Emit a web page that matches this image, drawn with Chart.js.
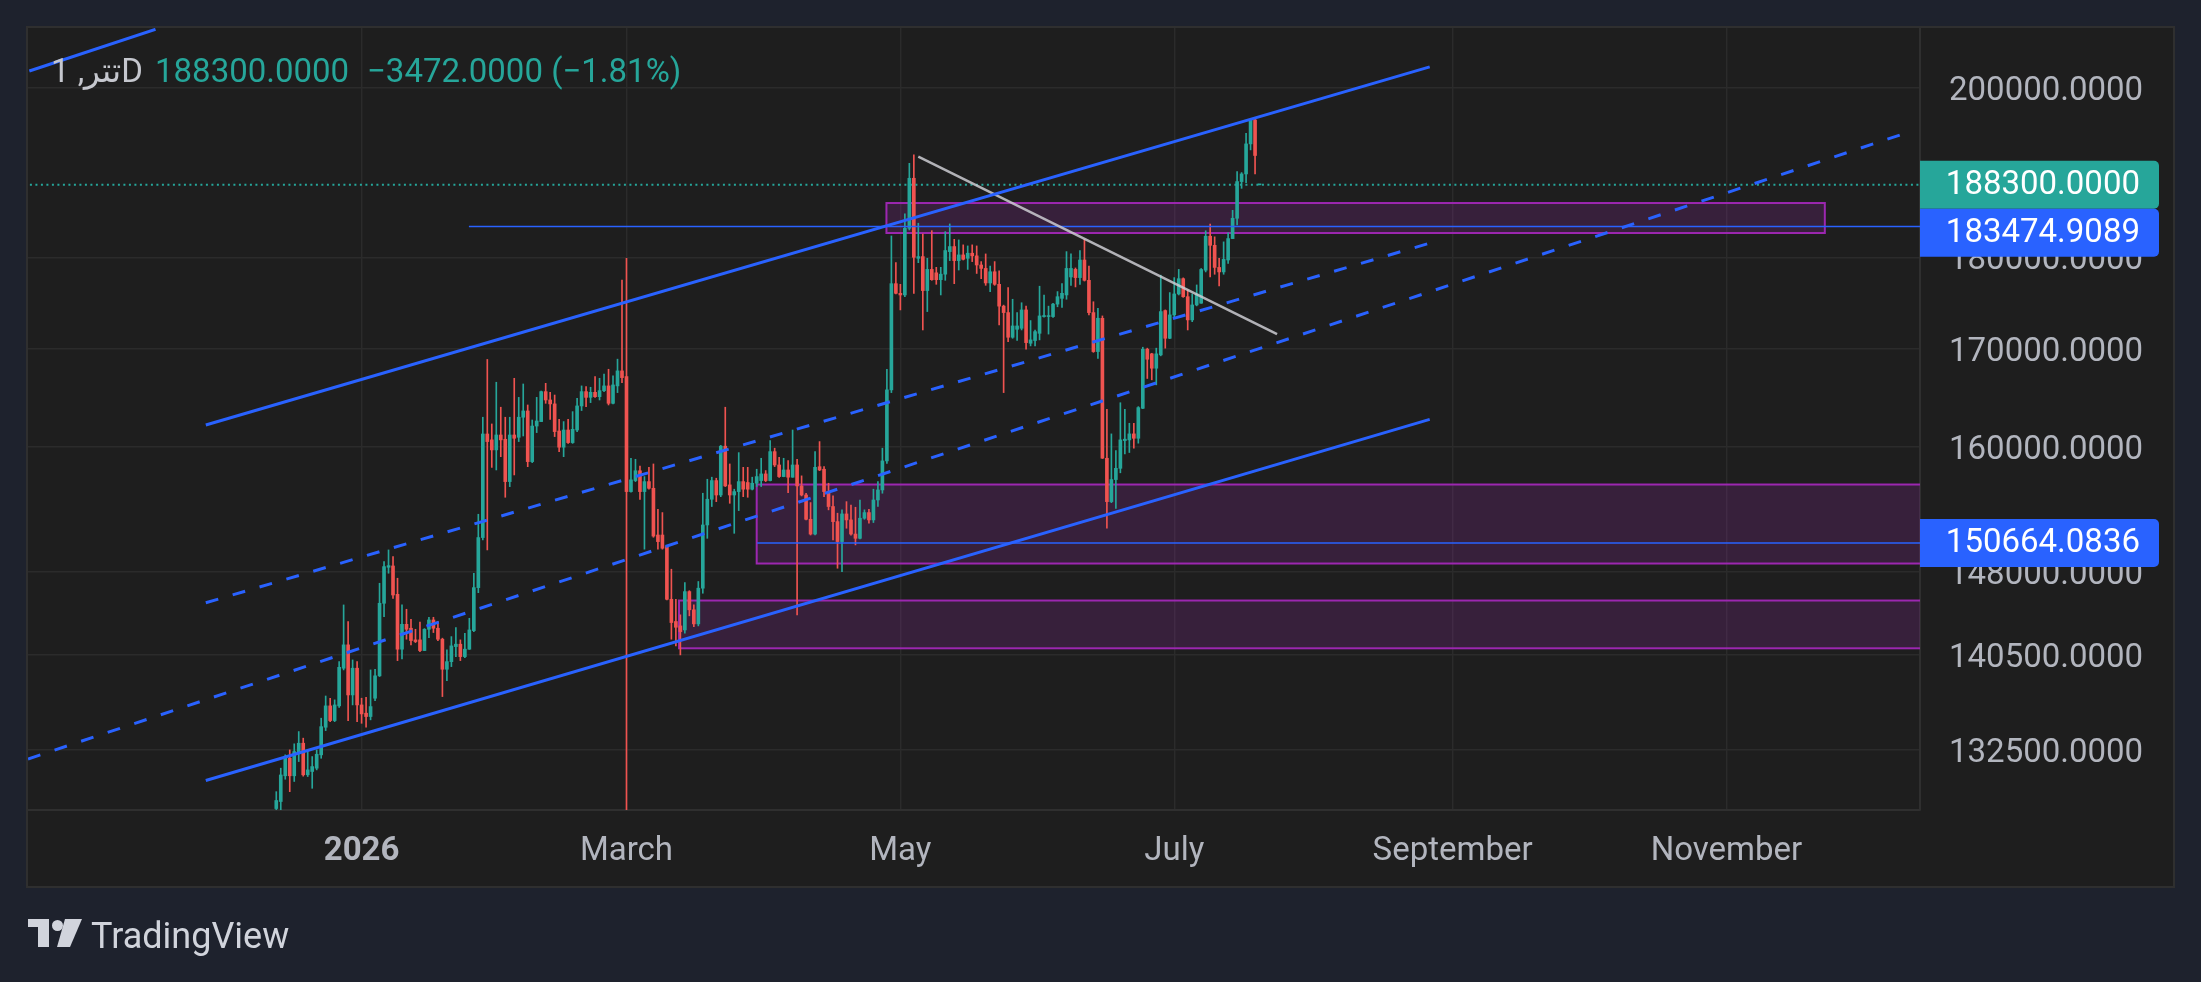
<!DOCTYPE html>
<html lang="en">
<head>
    <meta charset="UTF-8">
    <title>تتر, 1D</title>
    <script src="https://cdn.jsdelivr.net/npm/chart.js"></script>
    <style>
        html, body { margin: 0; padding: 0; background: #1e222d; overflow: hidden; }
        #wrap { position: relative; width: 2201px; height: 982px; }
        #chart { position: absolute; left: 0; top: 0; }
        .hdr { position: absolute; top: 51px; font: 33px Roboto, sans-serif; white-space: nowrap; }
        .sym { color: #c5c7ce; }
        .val { color: #26a69a; }
        .logo { position: absolute; left: 28px; top: 915px; height: 40px; }
        .logo svg { position: absolute; left: 0; top: 4px; }
        .logo span { position: absolute; left: 63px; top: 0; font: 36px Roboto, sans-serif; color: #d1d4dc; white-space: nowrap; }
    </style>
</head>
<body>
<div id="wrap">
    <canvas id="chart" width="2201" height="982"></canvas>

    <!-- Legend line -->
    <div class="hdr sym" style="left:51px">تتر, 1D</div>
    <div class="hdr val" style="left:155px">188300.0000</div>
    <div class="hdr val" style="left:367px">−3472.0000 (−1.81%)</div>

    <!-- Watermark -->
    <div class="logo">
        <svg width="54" height="28" viewBox="0 0 54 28">
            <rect x="0" y="0" width="21" height="8" fill="#d1d4dc"/>
            <rect x="10" y="0" width="11" height="28" fill="#d1d4dc"/>
            <circle cx="29.5" cy="6.5" r="5.5" fill="#d1d4dc"/>
            <polygon points="37,0 54,0 42,28 29,28" fill="#d1d4dc"/>
        </svg>
        <span>TradingView</span>
    </div>
</div>

<script>
    // Daily candles, first one on 13 Dec 2025; x values are days counted from 1 Jan 2026
    const firstDay = -19;

    const opens = [
        127700,128260,130330,131760,130330,132230,133000,130410,130680,130950,
        132040,134330,136130,134890,136130,139360,141400,137060,139360,136210,
        135510,135230,136780,138700,145110,148400,148520,145920,141020,143220,
        142870,141840,141840,140900,142780,143610,142870,141900,139270,139930,
        141250,141460,140370,141020,142660,146530,151170,161240,160650,159650,
        161140,160710,156530,161140,160910,162930,163570,158490,162040,162490,
        165550,164690,164290,161540,159920,161640,160380,161640,164080,165550,
        164960,165480,165030,165650,166140,164350,166140,167700,167110,155560,
        156630,157590,155560,156530,155880,151410,151410,150330,145470,143470,
        143080,142720,146170,144520,143260,146480,152360,154820,156630,155230,
        160020,156210,155230,155560,156530,156440,155790,156370,156630,157280,
        156630,159480,158160,157020,157670,156960,158160,156110,155230,152900,
        151500,157990,157740,155560,154120,152680,150790,153410,152840,151500,
        151100,153000,153540,152840,154750,155720,158560,165730,177060,176000,
        175820,183270,189070,179880,180070,176300,178640,178260,177500,178110,
        180630,181200,179620,180260,179880,180450,180150,179130,178750,177140,
        178380,176990,174600,173900,171250,172100,172210,174190,170610,170900,
        171670,173470,173470,173470,174820,175450,175820,177800,178640,177730,
        179690,177430,173900,169730,173290,158820,154590,156730,157830,160580,
        160650,161250,160810,163840,169980,169490,167980,169380,174120,171140,
        173650,175930,177610,175630,173110,174730,174920,178550,182370,181340,
        178860,178360,179690,182100,184420,188680,189580,193160,196060,188300
    ];
    const highs = [
        129050,130950,132040,132450,132950,133970,133420,132310,131900,132450,
        135090,136970,136780,136640,139930,144960,143460,140080,139930,136780,
        136860,139210,139270,146930,148920,150010,149390,147390,144960,144570,
        143670,142780,143430,142840,143850,143850,143460,141990,140960,142130,
        142930,141840,142430,143760,147850,153380,162930,168900,162250,166520,
        163950,162930,162930,166930,164960,166340,164180,162650,164960,165610,
        166410,165480,165200,162720,162490,162720,163500,164860,166140,166070,
        166000,167110,166930,167380,167870,167180,168930,177470,179880,158820,
        158720,158060,157020,157920,158260,153860,153540,150360,148220,145470,
        144070,147000,146250,144970,147090,155400,156760,156960,156860,160100,
        163950,158260,155790,159380,157930,157930,156960,157740,158820,157610,
        160580,159820,158920,158820,158590,161640,158720,157090,155400,154500,
        159480,160480,158000,156370,155140,153480,153800,154590,154270,154050,
        154750,153800,153860,155790,156530,159820,167870,182400,179390,176990,
        184920,190840,191840,183850,182630,179880,183000,178870,178870,182890,
        183770,182020,181950,181390,181270,181390,181270,179510,180370,179020,
        179510,178490,174710,176630,175350,173900,174970,174600,173040,172030,
        176780,175820,174600,174900,176190,177060,180630,180370,178800,180750,
        182020,179020,175080,174370,173540,163740,161250,159590,164410,163740,
        162320,162320,164010,170190,170090,169550,170090,178000,174190,176080,
        177730,178640,177700,176370,175930,176920,178740,182990,183760,182300,
        179870,181730,182760,185330,189860,189740,194440,196140,196140,188300
    ];
    const lows = [
        127300,127500,130050,129050,129870,131490,130300,130270,129320,130810,
        131760,134050,134800,134800,136000,139210,134890,136210,134800,134660,
        134330,134950,136580,138640,143910,147850,145560,140020,140160,141900,
        141400,141600,140810,140900,142040,142490,141780,136920,138290,139500,
        140370,140020,140280,141000,142570,146070,150950,150010,157920,157670,
        158980,155010,156040,157180,160480,161040,157990,158390,161380,162490,
        164350,162720,160980,159480,158980,160300,160300,161480,163610,164010,
        164420,164950,164690,165550,164180,164290,165450,166480,125000,155500,
        156530,154810,150080,155800,151200,150080,150080,145410,141900,141310,
        140520,142430,143980,143020,143080,146020,151100,154120,154590,155070,
        156050,154430,151570,153730,155070,155010,155720,156050,156050,156530,
        156600,158000,156950,157000,155460,156950,144070,155140,152840,151410,
        151410,157600,155070,153800,150950,148310,148000,152050,151400,150480,
        151050,152900,152520,152590,154120,155400,158320,165450,175930,174190,
        175630,183080,176000,179390,172030,174010,177430,176990,175820,177430,
        179620,177060,178570,179690,178640,179510,178190,177610,176880,176190,
        176880,172570,165450,170790,171140,170900,172030,169980,170330,170330,
        170970,173400,171590,173390,174530,174460,175350,176880,176700,176990,
        177350,173650,169650,169020,158800,152050,154490,153940,157390,159250,
        159390,159820,160320,163800,166910,166770,166250,169280,170090,171100,
        173390,175820,175560,172030,172920,174630,174910,178360,177800,178100,
        176810,178100,179310,182100,183650,187890,188560,192440,189580,188300
    ];
    const closes = [
        128340,130400,131900,130330,132310,133000,130410,130810,131080,132090,
        134380,136130,134890,136210,139440,141400,137060,139360,136210,135450,
        135230,136070,138700,145110,148460,148550,145860,141020,143220,142780,
        141780,141690,140900,142780,143610,142870,141900,139270,139930,141310,
        141460,140370,141020,142720,146530,151170,161240,160480,159650,161140,
        160650,156530,161140,160810,162930,163570,158490,162040,162550,165550,
        164690,164290,161480,159920,161640,160380,161710,164080,165550,164960,
        165480,165030,165650,166140,164350,166240,167700,167000,155560,156700,
        157590,155560,156530,155880,151310,150790,150170,145470,143380,142960,
        142570,146170,144520,143260,146480,152360,154820,156630,155230,160020,
        156110,155230,155560,156530,155790,155790,156370,157020,157280,156630,
        159480,158160,157020,157670,156960,158160,156110,155230,152900,151500,
        157930,157670,155560,154120,152680,150790,153410,152840,151500,151100,
        153000,153540,152840,154750,155720,158560,165730,177060,176000,175820,
        183270,189070,179990,180070,176300,178640,177500,177500,178110,180750,
        181200,179620,180260,179770,180450,180150,179130,178750,177140,178380,
        176990,174600,173900,171250,172460,172460,174190,170680,170970,171850,
        173540,173540,173540,174820,175630,176000,178750,178750,177730,179690,
        177430,173900,169730,173290,158820,154590,156730,157830,160650,160720,
        161250,160810,163910,169980,168920,167980,169490,174010,171140,173650,
        175930,177610,175630,173110,174730,175930,178630,182370,181340,178860,
        178360,179760,182100,184420,188680,189580,193160,196060,191770,188300
    ];

    // Axes
    const monthDays = [0, 59, 120, 181, 243, 304];
    const monthLabels = ['2026', 'March', 'May', 'July', 'September', 'November'];
    const priceTicks = [132500, 140500, 148000, 160000, 170000, 180000, 200000];
    const dayRange = [-74.3, 347.1];
    const priceRange = [127584, 207614];

    // Price line and horizontal levels
    const lastPrice = 188300;
    const levelPrices = [183474.9089, 150664.0836];
    const levelStarts = [23.9, 88.1];

    // Parallel channel (ends in days, prices at those ends)
    const channelDays = [-34.7, 237.9];
    const channelTop = [162144, 202645];
    const channelMid = [145154, 181582];
    const channelBottom = [129948, 162712];

    // Other drawn lines
    const rayDays = [-74.3, 344.1];
    const rayPrices = [131700, 194498];
    const cornerDays = [-74.0, -45.9];
    const cornerPrices = [202128, 207446];
    const trendDays = [124.0, 203.9];
    const trendPrices = [191624, 171596];

    // Zones
    const zoneStarts = [116.9, 88.0, 70.7];
    const zoneEnds = [325.9, 400, 400];
    const zoneHighs = [186178, 156246, 145358];
    const zoneLows = [182734, 148746, 141098];

    const up = '#26a69a';
    const down = '#ef5350';
    const blue = '#2962ff';

    const candleColors = closes.map((c, i) => c >= opens[i] ? up : down);
    const bodies = opens.map((o, i) => ({ x: firstDay + i, y: [o, closes[i]] }));
    const wicks = opens.map((o, i) => ({ x: firstDay + i, y: [lows[i], highs[i]] }));

    function segment(days, prices) {
        return days.map((d, i) => ({ x: d, y: prices[i] }));
    }

    function lineSet(data, color, width, dash) {
        return {
            type: 'line',
            data: data,
            borderColor: color,
            borderWidth: width,
            borderDash: dash || [],
            pointRadius: 0,
            fill: false,
            tension: 0
        };
    }

    // Background of the page and the chart panel
    const panelPlugin = {
        id: 'panel',
        beforeDraw(chart) {
            const { ctx, chartArea, scales } = chart;
            ctx.save();
            ctx.fillStyle = '#1e222d';
            ctx.fillRect(0, 0, chart.width, chart.height);
            const x0 = chartArea.left, y0 = chartArea.top;
            const x1 = scales.y.right, y1 = scales.x.bottom;
            ctx.fillStyle = '#1e1e1e';
            ctx.fillRect(x0, y0, x1 - x0, y1 - y0);
            ctx.strokeStyle = '#2f2f2f';
            ctx.lineWidth = 2;
            ctx.strokeRect(x0 - 1, y0 - 1, x1 - x0 + 2, y1 - y0 + 2);
            ctx.restore();
        }
    };

    // Rectangles, drawn under the candles
    const zonesPlugin = {
        id: 'zones',
        beforeDatasetsDraw(chart) {
            const { ctx, chartArea, scales: { x, y } } = chart;
            ctx.save();
            ctx.beginPath();
            ctx.rect(chartArea.left, chartArea.top, chartArea.right - chartArea.left, chartArea.bottom - chartArea.top);
            ctx.clip();
            zoneStarts.forEach((s, i) => {
                const left = x.getPixelForValue(s);
                const right = x.getPixelForValue(zoneEnds[i]);
                const top = y.getPixelForValue(zoneHighs[i]);
                const bottom = y.getPixelForValue(zoneLows[i]);
                ctx.fillStyle = 'rgba(156, 39, 176, 0.2)';
                ctx.fillRect(left, top, right - left, bottom - top);
                ctx.strokeStyle = '#9c27b0';
                ctx.lineWidth = 2;
                ctx.strokeRect(left, top, right - left, bottom - top);
            });
            ctx.restore();
        }
    };

    // Price tags on the right scale
    const tagsPlugin = {
        id: 'tags',
        afterDraw(chart) {
            const { ctx, chartArea, scales: { y } } = chart;
            const tags = [
                { v: lastPrice, c: up },
                { v: levelPrices[0], c: blue },
                { v: levelPrices[1], c: blue }
            ];
            const h = 48;
            let prevBottom = -Infinity;
            ctx.save();
            ctx.font = '33px Roboto';
            ctx.textAlign = 'right';
            ctx.textBaseline = 'middle';
            tags.forEach(t => {
                let top = y.getPixelForValue(t.v) - h / 2;
                if (top < prevBottom) top = prevBottom;
                prevBottom = top + h;
                ctx.fillStyle = t.c;
                ctx.beginPath();
                ctx.roundRect(chartArea.right, top, y.right - 14 - chartArea.right, h, [0, 5, 5, 0]);
                ctx.fill();
                ctx.fillStyle = '#ffffff';
                ctx.fillText(t.v.toFixed(4), y.right - 33, top + h / 2 + 1);
            });
            ctx.restore();
        }
    };

    Chart.defaults.font.family = 'Roboto';

    new Chart(document.getElementById('chart'), {
        type: 'bar',
        data: {
            datasets: [
                lineSet(segment(channelDays, channelTop), blue, 3),
                lineSet(segment(channelDays, channelBottom), blue, 3),
                lineSet(segment(channelDays, channelMid), blue, 3, [13, 15]),
                lineSet(segment(rayDays, rayPrices), blue, 3, [13, 15]),
                lineSet(segment(cornerDays, cornerPrices), blue, 3),
                lineSet(segment(trendDays, trendPrices), 'rgba(205, 205, 210, 0.85)', 2.5),
                lineSet(segment([levelStarts[0], 400], [levelPrices[0], levelPrices[0]]), blue, 1.6),
                lineSet(segment([levelStarts[1], 400], [levelPrices[1], levelPrices[1]]), blue, 1.6),
                lineSet(segment([-80, 400], [lastPrice, lastPrice]), up, 2, [2, 3.5]),
                {
                    data: bodies,
                    backgroundColor: candleColors,
                    barThickness: 3,
                    minBarLength: 1,
                    grouped: false
                },
                {
                    data: wicks,
                    backgroundColor: candleColors,
                    barThickness: 1,
                    grouped: false
                }
            ]
        },
        options: {
            responsive: false,
            animation: false,
            devicePixelRatio: 1,
            events: [],
            layout: { padding: { left: 28, top: 28, right: 28, bottom: 96 } },
            plugins: {
                legend: { display: false },
                tooltip: { enabled: false }
            },
            scales: {
                x: {
                    type: 'linear',
                    min: dayRange[0],
                    max: dayRange[1],
                    offset: false,
                    grid: { color: '#2b2b2b', lineWidth: 1.4, drawTicks: false, offset: false },
                    border: { color: '#2f2f2f', width: 2 },
                    ticks: {
                        autoSkip: false,
                        maxRotation: 0,
                        padding: 22,
                        color: '#b2b5be',
                        font: c => ({ family: 'Roboto', size: 33, weight: (c.tick && c.tick.value === 0) ? 'bold' : 'normal' }),
                        callback: v => monthLabels[monthDays.indexOf(v)]
                    },
                    afterBuildTicks: s => { s.ticks = monthDays.map(d => ({ value: d })); },
                    afterFit: s => { s.height = 76; s.paddingLeft = 0; s.paddingRight = 0; }
                },
                y: {
                    type: 'logarithmic',
                    position: 'right',
                    min: priceRange[0],
                    max: priceRange[1],
                    grid: { color: '#2b2b2b', lineWidth: 1.4, drawTicks: false },
                    border: { color: '#2f2f2f', width: 2 },
                    ticks: {
                        padding: 29,
                        labelOffset: 4,
                        color: '#b2b5be',
                        font: { family: 'Roboto', size: 33 },
                        callback: v => Number(v).toFixed(4)
                    },
                    afterBuildTicks: s => { s.ticks = priceTicks.map(v => ({ value: v })); },
                    afterFit: s => { s.width = 253; s.paddingTop = 0; s.paddingBottom = 0; }
                }
            }
        },
        plugins: [panelPlugin, zonesPlugin, tagsPlugin]
    });
</script>
</body>
</html>
